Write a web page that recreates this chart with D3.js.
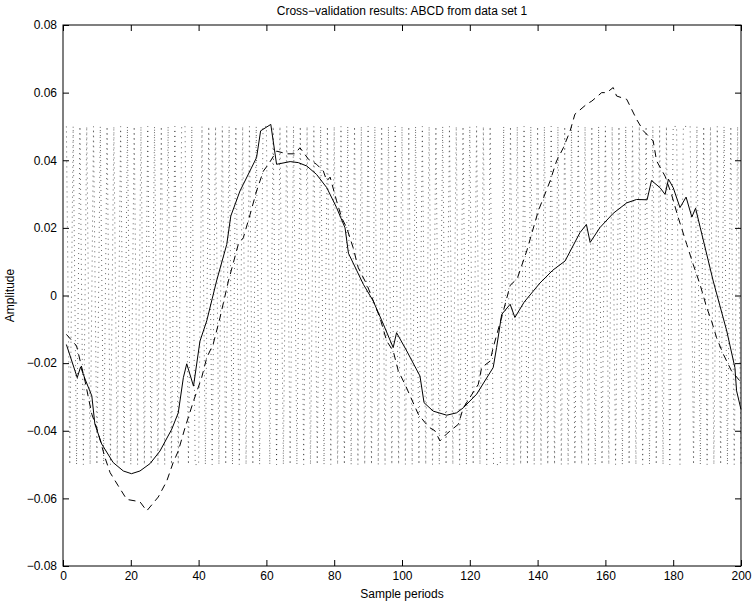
<!DOCTYPE html>
<html>
<head>
<meta charset="utf-8">
<script src="https://cdn.jsdelivr.net/npm/d3@7"></script>
<style>
  body { margin: 0; background: #fff; }
  svg { display: block; }
</style>
</head>
<body>
<div id="chart"></div>
<script>
const titleText = 'Cross\u2212validation results: ABCD from data set 1';
const xLabel = 'Sample periods';
const yLabel = 'Amplitude';
const xTicks = [0, 20, 40, 60, 80, 100, 120, 140, 160, 180, 200];
const yTicks = [-0.08, -0.06, -0.04, -0.02, 0, 0.02, 0.04, 0.06, 0.08];

// input signal (dotted), samples 1..200, sign of the +/-0.05 level
const inputAmplitude = 0.05;
const inputSigns = [
  1, -1, 1, -1, 1, -1, 1, -1, 1, -1, 1, -1, 1, -1, 1, -1, 1, -1, 1, -1,
  1, -1, 1, -1, 1, -1, 1, -1, 1, -1, 1, -1, 1, -1, 1, 1, -1, 1, -1, -1,
  1, -1, 1, -1, 1, -1, 1, -1, 1, -1, 1, -1, 1, -1, 1, -1, 1, -1, 1, 1,
  -1, 1, -1, 1, -1, 1, -1, 1, -1, 1, -1, 1, -1, 1, -1, 1, -1, 1, -1, 1,
  -1, 1, -1, 1, -1, 1, -1, 1, -1, 1, -1, 1, -1, 1, -1, 1, -1, 1, -1, 1,
  -1, 1, -1, 1, -1, 1, -1, 1, -1, 1, -1, 1, -1, 1, -1, 1, -1, 1, -1, 1,
  -1, 1, -1, 1, -1, 1, -1, -1, -1, 1, -1, 1, -1, 1, -1, 1, -1, 1, -1, 1,
  -1, 1, -1, 1, -1, 1, -1, 1, -1, 1, -1, 1, -1, 1, -1, 1, -1, 1, -1, 1,
  -1, 1, -1, 1, -1, 1, -1, 1, -1, 1, -1, 1, -1, 1, -1, 1, -1, 1, -1, 1,
  1, -1, 1, 1, 1, -1, 1, -1, 1, -1, 1, -1, 1, -1, 1, -1, 1, -1, 1, -1
];

// solid curve [sample, amplitude]
const solidSeries = [
  [1, -0.0145], [4.2, -0.0243], [5.2, -0.0211], [6.5, -0.0247], [8.5, -0.0297], [9.4, -0.038],
  [11.4, -0.0439], [14.8, -0.0494], [17.8, -0.0519], [20.2, -0.0527], [22.7, -0.0519],
  [25.7, -0.0497], [28.6, -0.046], [32.1, -0.0395], [34, -0.0347], [35.5, -0.0243],
  [36.5, -0.0202], [38.5, -0.0268], [40.4, -0.0135], [42.4, -0.0075], [44, -0.001],
  [45.3, 0.0043], [48.3, 0.0151], [49.5, 0.0235], [52.2, 0.0309], [53.2, 0.0329],
  [57.1, 0.0408], [58.3, 0.0487], [61.3, 0.0506], [63, 0.0388], [67, 0.0396], [69.4, 0.0393],
  [71.9, 0.0383], [74.8, 0.0358], [77.8, 0.0319], [80.7, 0.026], [83.2, 0.02], [84.2, 0.0125],
  [86.6, 0.0075], [88.6, 0.0033], [91.5, -0.0016], [94.5, -0.0085], [97.4, -0.0154],
  [98.4, -0.011], [101.4, -0.0164], [105.3, -0.0238], [106.5, -0.0317], [109.2, -0.0342],
  [113.2, -0.0354], [116.1, -0.0347], [118.1, -0.0332], [122, -0.0292], [126.9, -0.0213],
  [127.9, -0.0154], [129.4, -0.0056], [131.9, -0.0026], [133.3, -0.0065], [136, -0.002],
  [140.7, 0.0037], [144.5, 0.0075], [148.1, 0.0102], [152.5, 0.0186], [154.4, 0.021],
  [155.5, 0.0157], [158.4, 0.0201], [162.3, 0.0243], [166.3, 0.0274], [169.2, 0.0284],
  [172.3, 0.0283], [173.6, 0.034], [176.1, 0.0319], [177.6, 0.0299], [178.6, 0.0344],
  [180, 0.0319], [182, 0.026], [183.8, 0.0291], [185.5, 0.0232], [186.6, 0.0258], [188, 0.02],
  [191.8, 0.0043], [195.8, -0.0105], [198.2, -0.0213], [198.7, -0.0282], [200, -0.0337]
];

// dashed curve [sample, amplitude]
const dashedSeries = [
  [1, -0.0115], [4, -0.0149], [6.5, -0.0253], [8.5, -0.0351], [9.9, -0.039], [12.4, -0.048],
  [13.9, -0.0524], [16.3, -0.0563], [18.8, -0.0603], [22.7, -0.061], [24.7, -0.0637],
  [28.1, -0.0596], [30.6, -0.0549], [32.5, -0.0494], [34, -0.046], [36, -0.0391],
  [38.5, -0.0312], [40.9, -0.0243], [42.4, -0.0184], [44.3, -0.0144], [46.3, -0.0066],
  [48.8, 0.0043], [51.7, 0.0151], [53.2, 0.0171], [55.2, 0.024], [57.1, 0.0309],
  [59.1, 0.0368], [60.6, 0.0388], [63, 0.0427], [66, 0.0419], [68.4, 0.0419], [69.9, 0.0437],
  [72.4, 0.0403], [74.8, 0.0388], [76.8, 0.0368], [77.8, 0.0339], [78.8, 0.035], [80.7, 0.028],
  [82.2, 0.023], [83.7, 0.02], [85.6, 0.0141], [87.1, 0.0082], [89.6, 0.0033], [93.5, -0.0066],
  [95.5, -0.0135], [97.4, -0.0164], [98.9, -0.0223], [100.9, -0.0263], [102.4, -0.0297],
  [104.8, -0.0351], [106.8, -0.0376], [108.2, -0.0391], [109.7, -0.04], [111.2, -0.043],
  [113.2, -0.0409], [116.6, -0.0381], [118.1, -0.0332], [122.5, -0.0263], [123.5, -0.0213],
  [126, -0.0194], [126.9, -0.0154], [129.9, -0.0046], [131.9, 0.003], [134, 0.005],
  [136.8, 0.0132], [140.2, 0.025], [143.7, 0.0339], [145.6, 0.0398], [147.6, 0.0437],
  [149.6, 0.0487], [151, 0.0536], [154.5, 0.0566], [156, 0.0575], [158.9, 0.06], [160.4, 0.06],
  [162.3, 0.0615], [163.3, 0.059], [166.3, 0.058], [169.2, 0.0521], [171.2, 0.0487],
  [174.1, 0.0457], [175.1, 0.0398], [177.6, 0.0353], [179.5, 0.0299], [181.5, 0.023],
  [184, 0.0151], [185.9, 0.0092], [187.9, 0.0033], [189.9, -0.0036], [191.3, -0.0075],
  [192.8, -0.0125], [194.8, -0.0174], [197.2, -0.0223], [199.7, -0.0253], [200, -0.026]
];

const W = 754, H = 604;
const margin = { top: 25, right: 13, bottom: 38, left: 63 };
const w = W - margin.left - margin.right;
const h = H - margin.top - margin.bottom;
const font = "'Liberation Sans', Arial, Helvetica, sans-serif";

const svg = d3.select('#chart').append('svg')
  .attr('width', W).attr('height', H);

const g = svg.append('g').attr('transform', `translate(${margin.left},${margin.top})`);

const x = d3.scaleLinear().domain([0, 200]).range([0, w]);
const y = d3.scaleLinear().domain([-0.08, 0.08]).range([h, 0]);

const inputData = inputSigns.map((s, i) => [i + 1, s * inputAmplitude]);

const line = d3.line().x(d => x(d[0])).y(d => y(d[1]));

g.append('path')
  .datum(inputData)
  .attr('fill', 'none')
  .attr('stroke', '#000')
  .attr('stroke-width', 0.6)
  .attr('stroke-dasharray', '1 4')
  .attr('d', line);

g.append('path')
  .datum(dashedSeries)
  .attr('fill', 'none')
  .attr('stroke', '#000')
  .attr('stroke-width', 1)
  .attr('stroke-dasharray', '7 5')
  .attr('d', line);

g.append('path')
  .datum(solidSeries)
  .attr('fill', 'none')
  .attr('stroke', '#000')
  .attr('stroke-width', 1)
  .attr('d', line);

// axes, ticks pointing inward on all four sides
const fmtY = d => d === 0 ? '0' : d3.format('.2f')(d).replace('-', '\u2212');

const styleAxis = sel => {
  sel.select('.domain').remove();
  sel.selectAll('line').attr('stroke', '#000');
  sel.selectAll('text').attr('fill', '#000').attr('font-family', font).attr('font-size', '12px');
};

g.append('g').attr('transform', `translate(0,${h})`)
  .call(d3.axisBottom(x).tickValues(xTicks).tickSize(-6).tickPadding(5).tickFormat(d3.format('d')))
  .call(styleAxis);
g.append('g')
  .call(d3.axisTop(x).tickValues(xTicks).tickSize(-6).tickFormat(''))
  .call(styleAxis);
g.append('g')
  .call(d3.axisLeft(y).tickValues(yTicks).tickSize(-6).tickPadding(6).tickFormat(fmtY))
  .call(styleAxis);
g.append('g').attr('transform', `translate(${w},0)`)
  .call(d3.axisRight(y).tickValues(yTicks).tickSize(-6).tickFormat(''))
  .call(styleAxis);

g.append('rect')
  .attr('x', 0).attr('y', 0).attr('width', w).attr('height', h)
  .attr('fill', 'none').attr('stroke', '#000').attr('stroke-width', 1);

// labels
svg.append('text')
  .attr('x', margin.left + w / 2).attr('y', 15)
  .attr('text-anchor', 'middle')
  .attr('font-family', font).attr('font-size', '12px')
  .text(titleText);

svg.append('text')
  .attr('x', margin.left + w / 2).attr('y', H - 6)
  .attr('text-anchor', 'middle')
  .attr('font-family', font).attr('font-size', '12px')
  .text(xLabel);

svg.append('text')
  .attr('transform', `translate(14,${margin.top + h / 2}) rotate(-90)`)
  .attr('text-anchor', 'middle')
  .attr('font-family', font).attr('font-size', '12px')
  .text(yLabel);
</script>
</body>
</html>
